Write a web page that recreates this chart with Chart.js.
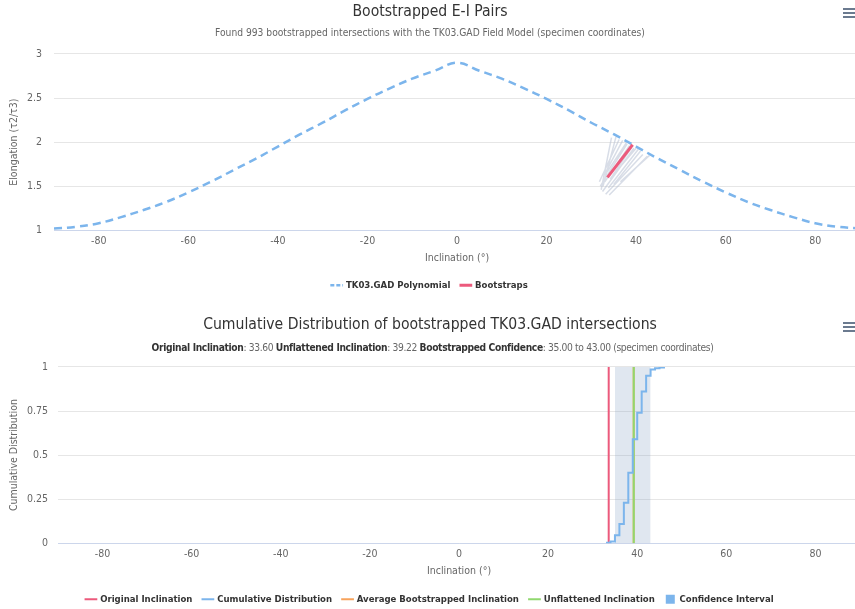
<!DOCTYPE html>
<html>
<head>
<meta charset="utf-8">
<script src="https://cdn.jsdelivr.net/npm/chart.js@4.4.1/dist/chart.umd.min.js"></script>
<style>
  body { margin: 0; background: #fff; overflow: hidden; width: 855px; height: 609px; position: relative; }
  .box { position: absolute; left: 0; width: 865px; }
  .menu { position: absolute; left: 843px; width: 12px; height: 10px;
    background: linear-gradient(#6b7a8f 0 2px, transparent 2px 4px, #6b7a8f 4px 6px, transparent 6px 8px, #6b7a8f 8px 10px); }
  #cdfSubtitle { position: absolute; left: 0; top: 341px; width: 865px; text-align: center; letter-spacing: -0.35px;
    font: 10.2px 'DejaVu Sans Condensed', sans-serif; color: #666; line-height: 14px; }
  #cdfSubtitle b { color: #333; }
</style>
</head>
<body>
<div class="box" style="top:0;height:304px"><canvas id="eiChart" width="865" height="304"></canvas></div>
<div class="menu" style="top:8px"></div>
<div class="box" style="top:305px;height:313px"><canvas id="cdfChart" width="865" height="313"></canvas></div>
<div class="menu" style="top:322px"></div>
<div id="cdfSubtitle"><b>Original Inclination</b>: 33.60 <b>Unflattened Inclination</b>: 39.22 <b>Bootstrapped Confidence</b>: 35.00 to 43.00 (specimen coordinates)</div>
<script>
// TK03.GAD elongation vs inclination, read every 5 degrees
const inclinationGrid = [-90, -85, -80, -75, -70, -65, -60, -55, -50, -45, -40, -35, -30, -25, -20, -15, -10, -5, 0,
  5, 10, 15, 20, 25, 30, 35, 40, 45, 50, 55, 60, 65, 70, 75, 80, 85, 90];
const tk03Elongation = [1.02, 1.04, 1.08, 1.15, 1.23, 1.32, 1.43, 1.55, 1.68, 1.81, 1.95, 2.09, 2.22, 2.36, 2.49, 2.61, 2.72, 2.81, 2.90,
  2.81, 2.72, 2.61, 2.49, 2.36, 2.22, 2.09, 1.95, 1.81, 1.68, 1.55, 1.43, 1.32, 1.23, 1.15, 1.08, 1.04, 1.02];

// original data E-I path
const dataPathInc = [33.6, 39.22];
const dataPathElong = [1.60, 1.97];

// a few bootstrap E-I paths (start -> end)
const pathStartInc = [32.0, 32.5, 33.0, 33.2, 33.8, 34.2, 34.0, 32.8, 35.0, 33.5, 34.8, 31.8, 36.5, 32.2, 32.6];
const pathStartElong = [1.50, 1.44, 1.55, 1.41, 1.48, 1.58, 1.40, 1.62, 1.52, 1.66, 1.62, 1.55, 1.55, 1.46, 1.50];
const pathEndInc = [38.0, 39.5, 38.5, 41.5, 40.5, 39.0, 42.5, 37.0, 41.0, 37.8, 40.0, 36.2, 43.0, 34.5, 35.5];
const pathEndElong = [1.98, 1.93, 1.96, 1.86, 1.92, 1.94, 1.84, 2.02, 1.90, 1.99, 1.93, 2.03, 1.85, 2.05, 2.06];

// cumulative distribution of bootstrapped intersections
const cdfInclination = [33, 34, 35, 36, 37, 38, 39, 40, 41, 42, 43, 44, 45, 46];
const cdfFraction = [0.003, 0.01, 0.045, 0.11, 0.23, 0.40, 0.59, 0.74, 0.86, 0.95, 0.985, 0.993, 0.997, 1];

const originalInclination = 33.6;
const averageInclination = 39.2;
const unflattenedInclination = 39.22;
const confidenceBounds = [35, 43];

const inclinationTicks = [-80, -60, -40, -20, 0, 20, 40, 60, 80];
const elongationTicks = [1, 1.5, 2, 2.5, 3];
const fractionTicks = [0, 0.25, 0.5, 0.75, 1];

const FONT = "'DejaVu Sans Condensed', sans-serif";
const BLUE = '#7cb5ec', RED = '#ec5a7c', ORANGE = '#f7a35c', GREEN = '#90d86f';

Chart.defaults.font.family = FONT;
Chart.defaults.color = '#666';

function vline(x) {
  return [{ x: x, y: 0 }, { x: x, y: 1 }];
}

function fixedTicks(values) {
  return scale => { scale.ticks = values.map(v => ({ value: v })); };
}

const tk03Points = inclinationGrid.map((x, i) => ({ x: x, y: tk03Elongation[i] }));
const dataPoints = dataPathInc.map((x, i) => ({ x: x, y: dataPathElong[i] }));
const greyPoints = [];
pathStartInc.forEach((x, i) => {
  greyPoints.push({ x: x, y: pathStartElong[i] });
  greyPoints.push({ x: pathEndInc[i], y: pathEndElong[i] });
  greyPoints.push({ x: pathEndInc[i], y: null });
});

function legendLabels(chart) {
  const items = Chart.defaults.plugins.legend.labels.generateLabels(chart);
  items.forEach(it => {
    const ds = chart.data.datasets[it.datasetIndex];
    if (ds.legendFill) { it.fillStyle = ds.legendFill; it.strokeStyle = ds.legendFill; it.lineWidth = 0; }
    if (ds.borderDash) it.lineDash = [4, 2];
  });
  return items;
}

const legendOpts = {
  position: 'bottom',
  labels: {
    usePointStyle: true, boxWidth: 9, boxHeight: 9, padding: 11,
    font: { size: 9.5, weight: 'bold' }, color: '#333',
    filter: item => item.text !== '',
    sort: (a, b) => a.datasetIndex - b.datasetIndex,
    generateLabels: legendLabels
  }
};

function xAxis(titlePad) {
  return {
    type: 'linear', min: -90, max: 90,
    afterBuildTicks: fixedTicks(inclinationTicks),
    ticks: { padding: 5, font: { size: 10.5 }, callback: v => String(v) },
    grid: { display: false, drawTicks: false },
    border: { color: '#ccd6eb' },
    title: { display: true, text: 'Inclination (°)', padding: titlePad, font: { size: 10.5 } }
  };
}

new Chart(document.getElementById('eiChart'), {
  type: 'line',
  data: {
    datasets: [
      { label: 'TK03.GAD Polynomial', data: tk03Points, borderColor: BLUE, borderWidth: 2.5, borderDash: [8, 5],
        pointRadius: 0, tension: 0.4, pointStyle: 'line', order: 2 },
      { label: 'Bootstraps', data: dataPoints, borderColor: RED, borderWidth: 3, pointRadius: 0, pointStyle: 'line', order: 1 },
      { label: '', data: greyPoints, borderColor: 'rgba(178,188,208,0.5)', borderWidth: 1.5, pointRadius: 0, spanGaps: false, order: 3 }
    ]
  },
  options: {
    responsive: false,
    animation: false,
    layout: { padding: { left: 0, right: 5, top: 0, bottom: 4 } },
    scales: {
      x: xAxis({ top: -1, bottom: 5 }),
      y: {
        min: 1, max: 3,
        afterBuildTicks: fixedTicks(elongationTicks),
        ticks: { padding: 12, font: { size: 10.5 }, callback: v => String(v) },
        grid: { color: '#e6e6e6', drawTicks: false },
        border: { display: false },
        title: { display: true, text: 'Elongation (τ2/τ3)', padding: { top: 8, bottom: 4 }, font: { size: 10.5 } },
        afterFit: s => { s.width = 54; }
      }
    },
    plugins: {
      title: { display: true, text: 'Bootstrapped E-I Pairs', color: '#333', font: { size: 15.6, weight: 'normal' }, padding: { top: 2.8, bottom: 3 } },
      subtitle: { display: true, text: 'Found 993 bootstrapped intersections with the TK03.GAD Field Model (specimen coordinates)',
        color: '#666', font: { size: 10.2 }, padding: { top: 3, bottom: 14.2 } },
      legend: legendOpts,
      tooltip: { enabled: false }
    }
  }
});

new Chart(document.getElementById('cdfChart'), {
  type: 'line',
  data: {
    datasets: [
      { label: 'Original Inclination', data: vline(originalInclination), borderColor: RED, borderWidth: 2, pointRadius: 0, pointStyle: 'line', order: 2 },
      { label: 'Cumulative Distribution', data: cdfInclination.map((x, i) => ({ x: x, y: cdfFraction[i] })),
        borderColor: BLUE, borderWidth: 2, pointRadius: 0, stepped: 'before', pointStyle: 'line', order: 1 },
      { label: 'Average Bootstrapped Inclination', data: vline(averageInclination), borderColor: ORANGE, borderWidth: 2, pointRadius: 0, pointStyle: 'line', order: 4 },
      { label: 'Unflattened Inclination', data: vline(unflattenedInclination), borderColor: GREEN, borderWidth: 2, pointRadius: 0, pointStyle: 'line', order: 3 },
      { label: 'Confidence Interval', data: confidenceBounds.map(x => ({ x: x, y: 1 })), fill: 'origin',
        backgroundColor: 'rgba(130,160,195,0.25)', borderWidth: 0, pointRadius: 0, pointStyle: 'rect', legendFill: BLUE, order: 10 }
    ]
  },
  options: {
    responsive: false,
    animation: false,
    layout: { padding: { left: 0, right: 5, top: 0, bottom: 4 } },
    scales: {
      x: xAxis({ top: -1, bottom: 6 }),
      y: {
        min: 0, max: 1,
        afterBuildTicks: fixedTicks(fractionTicks),
        ticks: { padding: 10, font: { size: 10.5 }, callback: v => String(v) },
        grid: { color: '#e6e6e6', drawTicks: false },
        border: { display: false },
        title: { display: true, text: 'Cumulative Distribution', padding: { top: 8, bottom: 4 }, font: { size: 10.5 } },
        afterFit: s => { s.width = 58; }
      }
    },
    plugins: {
      title: { display: true, text: 'Cumulative Distribution of bootstrapped TK03.GAD intersections', color: '#333',
        font: { size: 15.6, weight: 'normal' }, padding: { top: 10.6, bottom: 32.6 } },
      legend: legendOpts,
      tooltip: { enabled: false }
    }
  }
});
</script>
</body>
</html>
